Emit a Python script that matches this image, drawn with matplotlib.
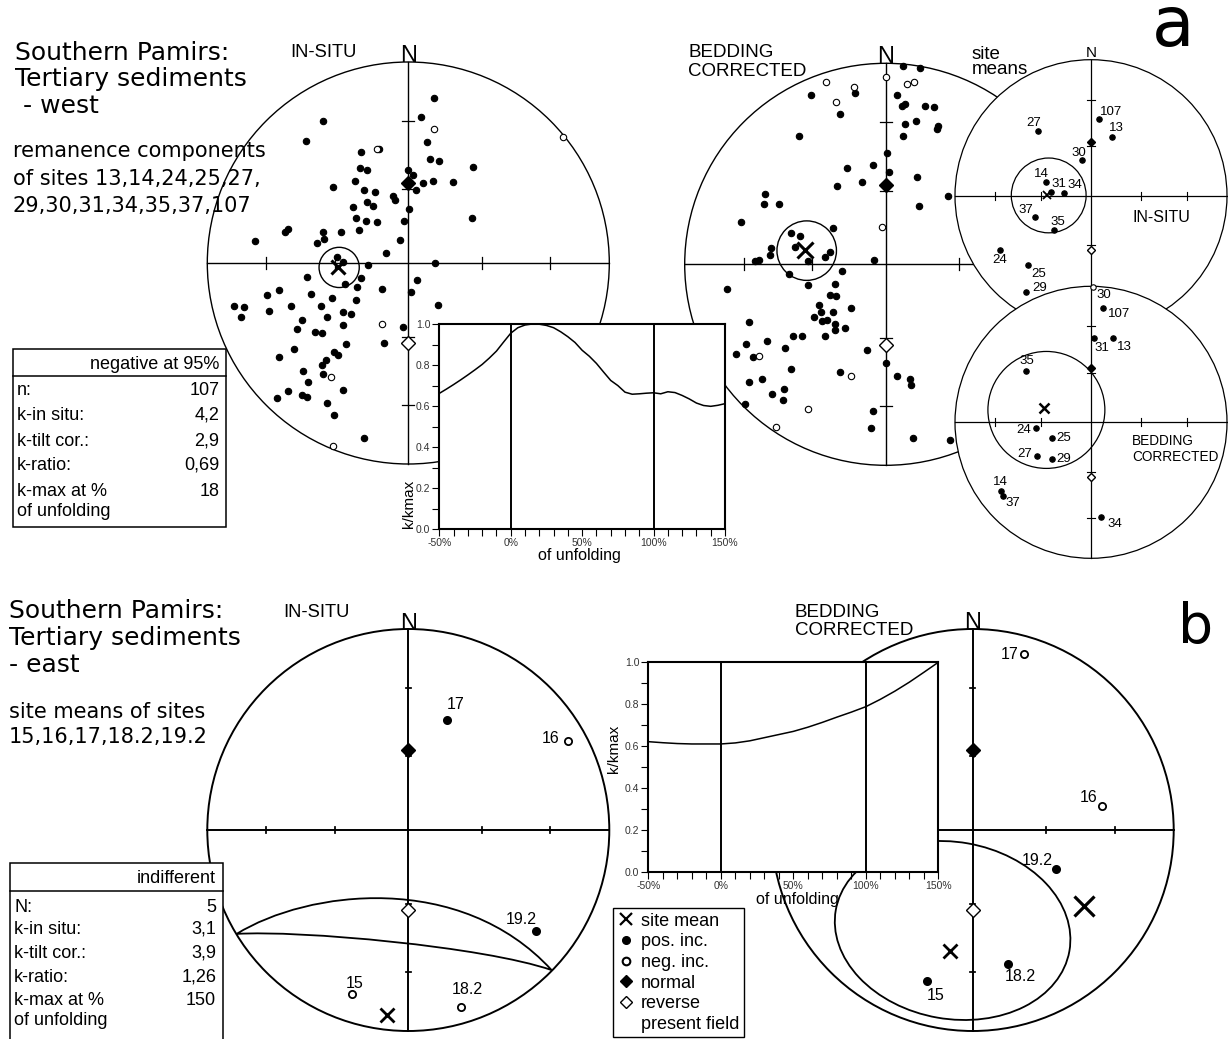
import numpy as np
import matplotlib.pyplot as plt
from matplotlib.patches import Circle, Ellipse, Rectangle, PathPatch
from matplotlib.path import Path
from matplotlib.lines import Line2D

W, H = 1228, 1039
SANS = ['Liberation Sans', 'DejaVu Sans']

# equal-area projections: x = east, y = north, primitive circle = 1
# present-day dipole field (normal / reverse)
pf_normal = (0.0, 0.397)
pf_reverse = (0.0, -0.400)

# ---------------- a) west, all remanence components ----------------
west_insitu_pos = [
    (0.129, 0.823), (0.061, 0.726), (-0.423, 0.706), (-0.509, 0.609), (0.095, 0.602),
    (-0.235, 0.551), (0.108, 0.519), (0.154, 0.507), (0.322, 0.478), (-0.240, 0.474),
    (-0.207, 0.464), (0.000, 0.461), (0.025, 0.436), (-0.265, 0.406), (-0.376, 0.376),
    (-0.221, 0.365), (-0.167, 0.353), (0.123, 0.406), (0.224, 0.403), (0.071, 0.396),
    (0.038, 0.365), (-0.078, 0.335), (-0.065, 0.312), (-0.206, 0.303), (-0.177, 0.282),
    (0.005, 0.269), (-0.277, 0.277), (-0.259, 0.224), (-0.211, 0.209), (-0.156, 0.206),
    (-0.023, 0.209), (0.318, 0.224), (-0.597, 0.171), (-0.612, 0.154), (-0.765, 0.108),
    (-0.423, 0.154), (-0.335, 0.154), (-0.245, 0.166), (-0.420, 0.119), (-0.453, 0.098),
    (-0.041, 0.114), (-0.113, 0.051), (-0.357, 0.030), (-0.327, 0.005), (-0.199, -0.010),
    (0.134, 0.000), (-0.504, -0.070), (-0.235, -0.075), (-0.315, -0.103), (-0.257, -0.119),
    (-0.133, -0.129), (0.041, -0.086), (0.013, -0.146), (0.149, -0.209), (-0.642, -0.133),
    (-0.701, -0.161), (-0.483, -0.156), (-0.378, -0.174), (-0.260, -0.186), (-0.866, -0.214),
    (-0.816, -0.217), (-0.831, -0.267), (-0.692, -0.237), (-0.585, -0.212), (-0.436, -0.212),
    (-0.403, -0.269), (-0.323, -0.242), (-0.284, -0.254), (-0.529, -0.282), (-0.552, -0.330),
    (-0.323, -0.310), (-0.464, -0.345), (-0.431, -0.348), (-0.028, -0.317), (-0.123, -0.396),
    (-0.308, -0.405), (-0.567, -0.426), (-0.642, -0.466), (-0.370, -0.441), (-0.348, -0.459),
    (-0.410, -0.484), (-0.430, -0.507), (-0.524, -0.539), (-0.498, -0.590), (-0.423, -0.554),
    (-0.323, -0.632), (-0.597, -0.637), (-0.529, -0.657), (-0.502, -0.665), (-0.653, -0.673),
    (-0.405, -0.695), (-0.370, -0.756), (-0.221, -0.872), (-0.144, 0.569),
]
west_insitu_neg = [
    (0.129, 0.665), (0.771, 0.625), (-0.154, 0.567), (-0.131, -0.303),
    (-0.385, -0.569), (-0.373, -0.912),
]
west_insitu_mean = (-0.352, -0.020)
west_insitu_a95 = (-0.344, -0.022, 0.100)

west_tilt_pos = [
    (0.085, 0.988), (0.169, 0.977), (-0.373, 0.841), (-0.153, 0.851), (0.056, 0.841),
    (-0.227, 0.748), (0.098, 0.798), (0.081, 0.788), (0.196, 0.788), (0.240, 0.784),
    (0.149, 0.715), (0.098, 0.700), (0.262, 0.690), (0.255, 0.673), (0.088, 0.637),
    (-0.430, 0.638), (0.008, 0.554), (-0.194, 0.481), (-0.061, 0.493), (0.015, 0.461),
    (-0.118, 0.410), (-0.244, 0.391), (0.158, 0.434), (-0.602, 0.350), (-0.605, 0.299),
    (-0.532, 0.299), (0.164, 0.289), (0.312, 0.340), (-0.720, 0.209), (-0.264, 0.179),
    (-0.469, 0.154), (-0.426, 0.141), (-0.451, 0.088), (-0.569, 0.080), (-0.575, 0.045),
    (-0.632, 0.022), (-0.652, 0.015), (-0.275, 0.063), (-0.303, 0.038), (-0.388, 0.018),
    (-0.060, 0.020), (-0.217, -0.032), (-0.481, -0.048), (-0.388, -0.103), (-0.250, -0.098),
    (-0.789, -0.123), (-0.277, -0.153), (-0.249, -0.156), (-0.330, -0.204), (-0.172, -0.219),
    (-0.320, -0.239), (-0.264, -0.235), (-0.358, -0.264), (-0.317, -0.280), (-0.294, -0.277),
    (-0.250, -0.297), (-0.202, -0.317), (-0.250, -0.328), (-0.303, -0.357), (-0.459, -0.357),
    (-0.416, -0.357), (-0.680, -0.287), (-0.693, -0.396), (-0.592, -0.381), (-0.499, -0.416),
    (-0.745, -0.444), (-0.662, -0.461), (-0.091, -0.425), (0.000, -0.493), (-0.473, -0.522),
    (-0.229, -0.536), (0.056, -0.557), (0.121, -0.570), (0.128, -0.602), (-0.615, -0.570),
    (-0.678, -0.587), (-0.504, -0.619), (-0.564, -0.643), (-0.512, -0.675), (-0.700, -0.697),
    (-0.065, -0.730), (-0.073, -0.816), (0.138, -0.866), (0.320, -0.876),
]
west_tilt_neg = [
    (-0.297, 0.909), (-0.158, 0.881), (-0.247, 0.806), (0.106, 0.897), (0.143, 0.907),
    (0.000, 0.934), (-0.017, 0.187), (-0.630, -0.454), (-0.172, -0.557),
    (-0.386, -0.720), (-0.547, -0.809),
]
west_tilt_mean = (-0.401, 0.071)
west_tilt_a95 = (-0.393, 0.068, 0.148)

# site means: name -> (x, y, positive inclination)
west_sites_insitu = {
    '107': (0.056, 0.561, True), '13': (0.154, 0.431, True), '27': (-0.387, 0.473, True),
    '30': (-0.066, 0.260, True), '14': (-0.331, 0.103, True), '31': (-0.294, 0.027, True),
    '34': (-0.199, 0.020, True), '37': (-0.412, -0.159, True), '35': (-0.270, -0.252, True),
    '24': (-0.667, -0.400, True), '25': (-0.463, -0.512, True), '29': (-0.480, -0.708, True),
}
west_sites_insitu_mean = (-0.324, 0.005)
west_sites_insitu_a95 = (-0.311, 0.002, 0.275)

west_sites_tilt = {
    '30': (0.012, 0.993, False), '107': (0.086, 0.843, True), '31': (0.022, 0.618, True),
    '13': (0.164, 0.618, True), '35': (-0.480, 0.380, True), '24': (-0.407, -0.042, True),
    '25': (-0.289, -0.118, True), '27': (-0.395, -0.245, True), '29': (-0.289, -0.270, True),
    '14': (-0.662, -0.505, True), '37': (-0.650, -0.539, True), '34': (0.074, -0.699, True),
}
west_sites_tilt_mean = (-0.348, 0.105)
west_sites_tilt_a95 = (-0.328, 0.091, 0.430)

# fold test, k/kmax against % of unfolding
west_unfold_pct = list(range(-50, 151, 5))
west_unfold_k = [
    0.662, 0.683, 0.705, 0.728, 0.752, 0.777, 0.803, 0.834, 0.868, 0.912,
    0.955, 0.982, 0.995, 1.000, 0.999, 0.993, 0.982, 0.962, 0.938, 0.910,
    0.872, 0.843, 0.808, 0.766, 0.725, 0.700, 0.668, 0.658, 0.660, 0.663,
    0.665, 0.660, 0.670, 0.666, 0.652, 0.635, 0.615, 0.603, 0.599, 0.604,
    0.612,
]
west_stats = [('n:', '107'), ('k-in situ:', '4,2'), ('k-tilt cor.:', '2,9'),
              ('k-ratio:', '0,69'), ('k-max at %', '18'), ('of unfolding', '')]

# ---------------- b) east, site means ----------------
east_sites_insitu = {
    '17': (0.194, 0.546, True), '16': (0.796, 0.444, False), '19.2': (0.635, -0.502, True),
    '15': (-0.282, -0.816, False), '18.2': (0.260, -0.882, False),
}
east_insitu_means = [(-0.104, -0.920)]
# confidence region drawn as two cubic arcs (start, ctrl, ctrl, end)
east_insitu_a95_upper = [(-0.854, -0.517), (-0.501, -0.299), (0.260, -0.203), (0.713, -0.697)]
east_insitu_a95_lower = [(0.713, -0.697), (0.373, -0.580), (-0.539, -0.498), (-0.854, -0.517)]

east_sites_tilt = {
    '17': (0.257, 0.874, False), '16': (0.642, 0.121, False), '19.2': (0.413, -0.196, True),
    '18.2': (0.177, -0.667, True), '15': (-0.229, -0.750, True),
}
east_tilt_means = [(0.554, -0.378), (-0.113, -0.600)]
east_tilt_a95 = (-0.10, -0.50, 1.18, 0.88, -10)   # centre x, y, width, height, angle

east_unfold_pct = list(range(-50, 151, 10))
east_unfold_k = [
    0.621, 0.616, 0.612, 0.610, 0.610, 0.610, 0.615, 0.625, 0.640, 0.655,
    0.670, 0.690, 0.713, 0.738, 0.762, 0.788, 0.823, 0.862, 0.905, 0.952, 1.000,
]
east_stats = [('N:', '5'), ('k-in situ:', '3,1'), ('k-tilt cor.:', '3,9'),
              ('k-ratio:', '1,26'), ('k-max at %', '150'), ('of unfolding', '')]

fig = plt.figure(figsize=(W / 100, H / 100), dpi=100)


def px_axes(left, top, width, height):
    return fig.add_axes([left / W, 1 - (top + height) / H, width / W, height / H])


def stereonet(cx, cy, R, lw=1.0, tick=0.03):
    pad = 1.06
    ax = px_axes(cx - pad * R, cy - pad * R, 2 * pad * R, 2 * pad * R)
    ax.set_xlim(-pad, pad)
    ax.set_ylim(-pad, pad)
    ax.axis('off')
    prim = Circle((0, 0), 1, facecolor='white', edgecolor='black', lw=lw, zorder=1)
    ax.add_patch(prim)
    ax.plot([-1, 1], [0, 0], color='black', lw=lw, zorder=2)
    ax.plot([0, 0], [-1, 1], color='black', lw=lw, zorder=2)
    for r in (-0.707, -0.366, 0.366, 0.707):
        ax.plot([r, r], [-tick, tick], color='black', lw=lw * 0.9, zorder=2)
        ax.plot([-tick, tick], [r, r], color='black', lw=lw * 0.9, zorder=2)
    return ax, prim


def dots(ax, pts, filled, ms, mew=0.8):
    if not pts:
        return
    xs, ys = zip(*pts)
    ax.plot(xs, ys, 'o', ms=ms, mec='black', mew=mew,
            mfc='black' if filled else 'white', zorder=4, clip_on=False)


def field(ax, ms, mew=1.0):
    ax.plot(*pf_normal, 'D', ms=ms, color='black', zorder=5)
    ax.plot(*pf_reverse, 'D', ms=ms, mfc='white', mec='black', mew=mew, zorder=5)


def means(ax, pts, ms, mew):
    for x, y in pts:
        ax.plot(x, y, 'x', ms=ms, mew=mew, color='black', zorder=6)


def sites(ax, table, offsets, ms, size, mew=0.8):
    dots(ax, [(x, y) for x, y, p in table.values() if p], True, ms, mew)
    dots(ax, [(x, y) for x, y, p in table.values() if not p], False, ms, mew)
    for name, (x, y, p) in table.items():
        dx, dy = offsets[name]
        ax.annotate(name, (x, y), xytext=(dx * 0.72, dy * 0.72), textcoords='offset points',
                    ha='center', va='center', fontsize=size, family=SANS, zorder=7)


def unfold_graph(left, top, width, height, pct, k, ylab, xlab):
    ax = px_axes(left, top, width, height)
    ax.plot(pct, k, color='black', lw=1.1)
    ax.axvline(0, color='black', lw=1.4)
    ax.axvline(100, color='black', lw=1.4)
    ax.set_xlim(-50, 150)
    ax.set_ylim(0, 1)
    ax.set_xticks(range(-50, 151, 50))
    ax.set_xticklabels([f'{v}%' for v in range(-50, 151, 50)])
    ax.set_xticks(range(-50, 151, 10), minor=True)
    yt = np.round(np.arange(0, 1.01, 0.2), 1)
    ax.set_yticks(yt)
    ax.set_yticklabels([f'{v:.1f}' for v in yt])
    ax.set_yticks(np.arange(0, 1.01, 0.1), minor=True)
    ax.tick_params(which='both', direction='out', length=5, width=0.8,
                   labelsize=7.5, labelcolor='#333333', pad=1.5)
    for lab in ax.get_xticklabels() + ax.get_yticklabels():
        lab.set_family(SANS)
    for s in ax.spines.values():
        s.set_linewidth(1.5)
    ax.set_ylabel('k/kmax', fontsize=11, family=SANS)
    ax.yaxis.set_label_coords(*ylab)
    ax.set_xlabel('of unfolding', fontsize=11.5, family=SANS)
    ax.xaxis.set_label_coords(*xlab)
    return ax


# ---- panel a nets ----
ax, prim = stereonet(408.3, 263, 201)
dots(ax, west_insitu_pos, True, 4.6)
dots(ax, west_insitu_neg, False, 4.6)
field(ax, 7.2)
means(ax, [west_insitu_mean], 10, 2.2)
ax.add_patch(Circle(west_insitu_a95[:2], west_insitu_a95[2], fill=False, lw=1.0, zorder=3))

ax, prim = stereonet(885.7, 264.3, 201)
dots(ax, west_tilt_pos, True, 4.6)
dots(ax, west_tilt_neg, False, 4.6)
field(ax, 7.2)
means(ax, [west_tilt_mean], 11, 2.2)
ax.add_patch(Circle(west_tilt_a95[:2], west_tilt_a95[2], fill=False, lw=1.0, zorder=3))

ax, prim = stereonet(1091, 195.7, 136, lw=0.9)
sites(ax, west_sites_insitu, {
    '107': (12, 7.7), '13': (4, 9.3), '27': (-4.3, 8), '30': (-3, 7.7), '14': (-5, 7.7),
    '31': (8, 8), '34': (11, 8), '37': (-9, 7.3), '35': (3.3, 8.3), '24': (-1, -10),
    '25': (10.7, -8.3), '29': (14.3, 3.7)}, 3.9, 9.5)
field(ax, 4.4)
means(ax, [west_sites_insitu_mean], 6, 1.3)
ax.add_patch(Circle(west_sites_insitu_a95[:2], west_sites_insitu_a95[2], fill=False, lw=0.9, zorder=3))

ax, prim = stereonet(1091, 422.3, 136, lw=0.9)
sites(ax, west_sites_tilt, {
    '30': (10.7, -7.7), '107': (16.3, -6.7), '31': (8, -10), '13': (10.7, -8.3),
    '35': (1, 9.7), '24': (-11.7, -2), '25': (12.3, 0), '27': (-12.3, 1.7),
    '29': (11.7, 0), '14': (-0.3, 9.3), '37': (10, -7), '34': (14, -7)}, 3.9, 9.5)
field(ax, 4.4)
means(ax, [west_sites_tilt_mean], 7, 1.8)
ax.add_patch(Circle(west_sites_tilt_a95[:2], west_sites_tilt_a95[2], fill=False, lw=0.9, zorder=3))

unfold_graph(439.3, 324, 285.7, 205.3, west_unfold_pct, west_unfold_k,
             (-0.082, 0.123), (0.49, -0.0925))

# ---- panel b nets ----
ax, prim = stereonet(408.3, 830, 201, lw=1.4, tick=0.013)
sites(ax, east_sites_insitu, {
    '17': (8.7, 15.3), '16': (-17.7, 2.3), '19.2': (-14.3, 11.7),
    '15': (2.7, 10.7), '18.2': (7, 17.3)}, 5.2, 11.5, mew=1.3)
field(ax, 7.1)
means(ax, east_insitu_means, 10.5, 2.0)
verts = east_insitu_a95_upper + east_insitu_a95_lower[1:]
codes = [Path.MOVETO] + [Path.CURVE4] * 6
ax.add_patch(PathPatch(Path(verts, codes), fill=False, lw=1.3, zorder=3))

ax, prim = stereonet(972.7, 830, 201, lw=1.4, tick=0.013)
sites(ax, east_sites_tilt, {
    '17': (-15, 0), '16': (-13.3, 8.3), '19.2': (-18.3, 9.3),
    '18.2': (11.7, -12.7), '15': (9.3, -15)}, 5.2, 11.5, mew=1.3)
field(ax, 7.1)
means(ax, east_tilt_means[:1], 14.5, 2.3)
means(ax, east_tilt_means[1:], 10.5, 2.0)
ex, ey, ew, eh, ea = east_tilt_a95
ell = Ellipse((ex, ey), ew, eh, angle=ea, fill=False, lw=1.3, zorder=3)
ax.add_patch(ell)
ell.set_clip_path(prim)

unfold_graph(648.3, 662.3, 290, 209.4, east_unfold_pct, east_unfold_k,
             (-0.095, 0.586), (0.514, -0.0955))

# ---- page: titles, tables, legend ----
page = fig.add_axes([0, 0, 1, 1])
page.set_xlim(0, W)
page.set_ylim(H, 0)
page.axis('off')
page.set_zorder(20)


def txt(x, y, s, size, family=SANS, **kw):
    page.text(x, y, s, fontsize=size, family=family, va='baseline', **kw)


for y, s in [(60, 'Southern Pamirs:'), (86, 'Tertiary sediments'), (113, ' - west')]:
    txt(15, y, s, 18, family='DejaVu Sans')
for y, s in [(157, 'remanence components'), (185, 'of sites 13,14,24,25,27,'),
             (212, '29,30,31,34,35,37,107')]:
    txt(13, y, s, 15, family='DejaVu Sans')
for y, s in [(618, 'Southern Pamirs:'), (645, 'Tertiary sediments'), (672, '- east')]:
    txt(9, y, s, 18, family='DejaVu Sans')
for y, s in [(718, 'site means of sites'), (743, '15,16,17,18.2,19.2')]:
    txt(9, y, s, 15, family='DejaVu Sans')

page.text(1152, 46, 'a', fontsize=50, family='DejaVu Sans', va='baseline')
txt(1178, 643, 'b', 40, family='DejaVu Sans')

txt(290, 57, 'IN-SITU', 13.2)
txt(688, 57, 'BEDDING', 13.5)
txt(688, 76, 'CORRECTED', 13.5)
txt(283, 617, 'IN-SITU', 13.2)
txt(795, 617, 'BEDDING', 13.5)
txt(795, 635, 'CORRECTED', 13.5)
for x, y in [(408.3, 62), (885.7, 63), (408.3, 630), (972.7, 629)]:
    txt(x, y, 'N', 17, ha='center')
txt(1091, 57, 'N', 11, ha='center')
txt(972, 59, 'site', 13.5)
txt(972, 74, 'means', 13.5)
txt(1133, 222, 'IN-SITU', 11.5)
txt(1132, 445, 'BEDDING', 9.8)
txt(1132, 461, 'CORRECTED', 9.8)


def stats_box(left, top, right, bottom, head_y, header, header_base, rows, bases):
    page.add_patch(Rectangle((left, top), right - left, bottom - top,
                             facecolor='white', edgecolor='black', lw=1.1, zorder=1))
    page.plot([left, right], [head_y, head_y], color='black', lw=1.1, zorder=2)
    txt(right - 6.5, header_base, header, 13, ha='right')
    for (name, val), b in zip(rows, bases):
        txt(left + 4, b, name, 13)
        txt(right - 6.5, b, val, 13, ha='right')


stats_box(12.7, 349.3, 225.7, 526.7, 376, 'negative at 95%', 369, west_stats,
          [395, 420, 446, 470, 496.5, 516.5])
stats_box(10, 863.3, 222.7, 1045, 891, 'indifferent', 883, east_stats,
          [911.5, 933.5, 957.5, 981.5, 1005, 1025])

handles = [
    Line2D([], [], ls='none', marker='x', ms=9, mew=1.6, color='black'),
    Line2D([], [], ls='none', marker='o', ms=5.5, color='black'),
    Line2D([], [], ls='none', marker='o', ms=5.5, mfc='white', mec='black', mew=1.5),
    Line2D([], [], ls='none', marker='D', ms=6, color='black'),
    Line2D([], [], ls='none', marker='D', ms=6, mfc='white', mec='black', mew=1.0),
    Line2D([], [], ls='none'),
]
labels = ['site mean', 'pos. inc.', 'neg. inc.', 'normal', 'reverse', 'present field']
leg = page.legend(handles, labels, loc='upper left', bbox_to_anchor=(612.7, 908.3),
                  bbox_transform=page.transData, borderaxespad=0, borderpad=0.25,
                  handlelength=1.0, handletextpad=0.3, labelspacing=0.2,
                  fancybox=False, framealpha=1, edgecolor='black',
                  prop={'family': SANS, 'size': 13})
leg.get_frame().set_linewidth(1.0)

fig.savefig('out.png', dpi=100)
